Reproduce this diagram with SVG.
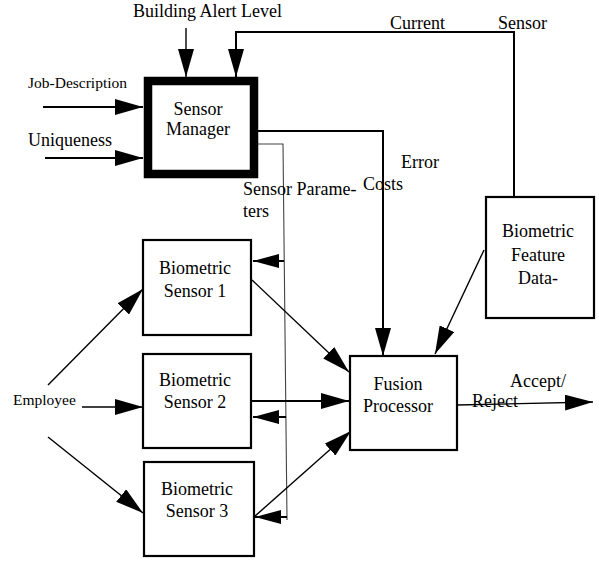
<svg xmlns="http://www.w3.org/2000/svg" width="599" height="562" viewBox="0 0 599 562">
<style>
text{font-family:'Liberation Serif','DejaVu Serif',serif;font-size:18px;fill:#000}
.s{font-size:15.5px}
.box{fill:#fff;stroke:#000;stroke-width:2.2}
.thick{fill:#fff;stroke:#000;stroke-width:8.5}
.c{fill:none;stroke:#000;stroke-width:1.4}
.c2{fill:none;stroke:#000;stroke-width:2}
.thin{fill:none;stroke:#444;stroke-width:1.1}
.m{text-anchor:middle}
</style>
<defs>
<marker id="a" viewBox="0 0 28 16" refX="28" refY="8" markerWidth="28" markerHeight="16" markerUnits="userSpaceOnUse" orient="auto">
<path d="M0,0L28,8L0,16z" fill="#000"/>
</marker>
<marker id="b" viewBox="0 0 26 14" refX="26" refY="7" markerWidth="26" markerHeight="14" markerUnits="userSpaceOnUse" orient="auto">
<path d="M0,0L26,7L0,14z" fill="#000"/>
</marker>
</defs>
<g id="connectors">
<line class="c" x1="186" y1="28" x2="186" y2="77" marker-end="url(#a)"/>
<polyline class="c2" points="514,197 514,32 236,32 236,77" marker-end="url(#a)"/>
<line class="c2" x1="43" y1="107" x2="143" y2="107" marker-end="url(#a)"/>
<line class="c2" x1="45" y1="158" x2="143" y2="158" marker-end="url(#a)"/>
<polyline class="c2" points="258,131 383,131 383,356" marker-end="url(#a)"/>
<polyline class="thin" points="258,144 283,144 287,520"/>
<line class="c2" x1="284" y1="261" x2="253" y2="261" marker-end="url(#b)"/>
<line class="c2" x1="286" y1="417" x2="253" y2="417" marker-end="url(#b)"/>
<line class="c2" x1="287" y1="517" x2="255" y2="517" marker-end="url(#b)"/>
<line class="c" x1="48" y1="385" x2="143" y2="289" marker-end="url(#a)"/>
<line class="c" x1="82" y1="407" x2="143" y2="407" marker-end="url(#a)"/>
<line class="c" x1="48" y1="437" x2="143" y2="513" marker-end="url(#a)"/>
<line class="c" x1="252" y1="280" x2="349" y2="372" marker-end="url(#a)"/>
<line class="c2" x1="252" y1="401" x2="349" y2="401" marker-end="url(#a)"/>
<line class="c" x1="254" y1="517" x2="351" y2="431" marker-end="url(#a)"/>
<line class="c" x1="484" y1="250" x2="435" y2="354" marker-end="url(#a)"/>
<line class="c" x1="457" y1="405" x2="593" y2="402" marker-end="url(#a)"/>
</g>
<g id="sensor-manager">
<rect class="thick" x="148" y="81" width="106" height="93"/>
<text class="m" x="198" y="115">Sensor</text>
<text class="m" x="198" y="135">Manager</text>
</g>
<g id="sensor1">
<rect class="box" x="143" y="240" width="108" height="95"/>
<text class="m" x="195" y="274">Biometric</text>
<text class="m" x="195" y="297">Sensor 1</text>
</g>
<g id="sensor2">
<rect class="box" x="143" y="354" width="108" height="94"/>
<text class="m" x="195" y="386">Biometric</text>
<text class="m" x="195" y="408">Sensor 2</text>
</g>
<g id="sensor3">
<rect class="box" x="144" y="462" width="110" height="94"/>
<text class="m" x="197" y="495">Biometric</text>
<text class="m" x="197" y="517">Sensor 3</text>
</g>
<g id="fusion">
<rect class="box" x="350" y="356" width="107" height="94"/>
<text class="m" x="398" y="390">Fusion</text>
<text class="m" x="398" y="412">Processor</text>
</g>
<g id="feature-data">
<rect class="box" x="486" y="197" width="108" height="121"/>
<text class="m" x="538" y="237">Biometric</text>
<text class="m" x="538" y="261">Feature</text>
<text class="m" x="538" y="284">Data-</text>
</g>
<g id="labels">
<text x="133" y="17">Building Alert Level</text>
<text x="390" y="29">Current</text>
<text x="498" y="29">Sensor</text>
<text class="s" x="28" y="88">Job-Description</text>
<text x="28" y="146">Uniqueness</text>
<text class="s" x="13" y="405">Employee</text>
<text x="243" y="195">Sensor Parame-</text>
<text x="243" y="217">ters</text>
<text x="401" y="168">Error</text>
<text x="363" y="190">Costs</text>
<text x="510" y="387">Accept/</text>
<text x="472" y="407">Reject</text>
</g>
</svg>
